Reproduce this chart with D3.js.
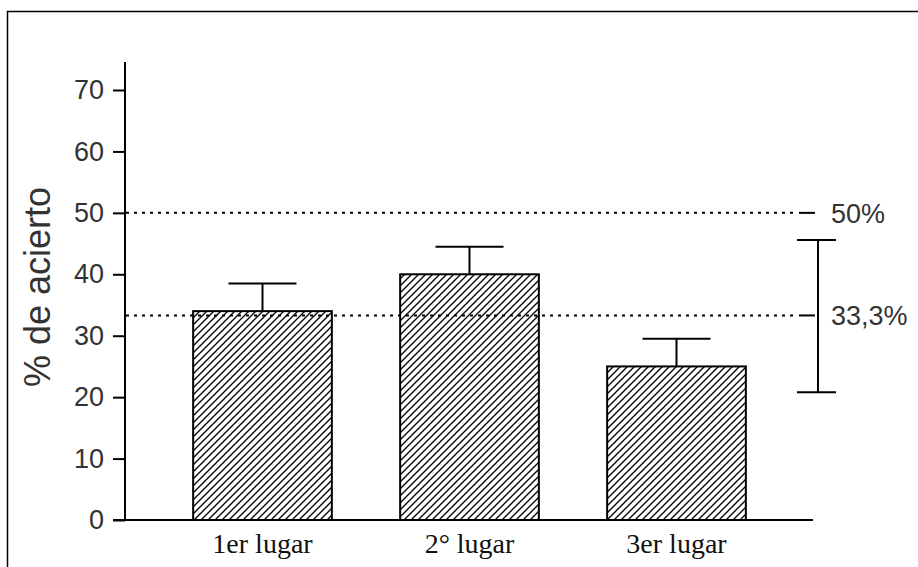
<!DOCTYPE html>
<html>
<head>
<meta charset="utf-8">
<script src="https://cdn.jsdelivr.net/npm/d3@7"></script>
<style>
  body { margin: 0; background: #fff; }
  .serif { font-family: 'DejaVu Serif', 'Liberation Serif', 'Times New Roman', Times, serif; }
  .sans { font-family: 'Liberation Sans', 'DejaVu Sans', sans-serif; }
</style>
</head>
<body>
<div id="chart"></div>
<script>
const categories = ['1er lugar', '2° lugar', '3er lugar']
const values = [34, 40, 25]
const errTop = [38.5, 44.5, 29.5]
const yTicks = [0, 10, 20, 30, 40, 50, 60, 70]
const chanceLevels = [50, 33.3]
const chanceLabels = ['50%', '33,3%']
const rangeBar = [20.8, 45.6]

const svg = d3.select('#chart').append('svg')
  .attr('width', 918).attr('height', 567)

// outer frame
svg.append('rect')
  .attr('x', 7.5).attr('y', 11.5)
  .attr('width', 1000).attr('height', 1000)
  .attr('fill', 'none').attr('stroke', '#000').attr('stroke-width', 1.5)

const defs = svg.append('defs')
defs.append('pattern')
  .attr('id', 'hatch')
  .attr('patternUnits', 'userSpaceOnUse')
  .attr('width', 7).attr('height', 7)
  .append('path')
  .attr('d', 'M0,7 L7,0 M-1,1 L1,-1 M6,8 L8,6')
  .attr('stroke', '#000').attr('stroke-width', 1.3)

const y = d3.scaleLinear().domain([0, 70]).range([520, 90])
const x = d3.scaleBand().domain(categories)
  .range([159, 780]).paddingInner(0.33).paddingOuter(0.165)

// y axis
const yAxis = d3.axisLeft(y).tickValues(yTicks).tickSize(12).tickPadding(9)
const gy = svg.append('g').attr('transform', 'translate(125,0)').call(yAxis)
gy.attr('font-family', null)
gy.select('.domain').remove()
gy.selectAll('.tick line').attr('stroke-width', 2)
gy.selectAll('.tick text')
  .attr('class', 'sans')
  .attr('font-size', '27px').attr('fill', '#333')
svg.append('line')
  .attr('x1', 125).attr('x2', 125).attr('y1', 62).attr('y2', 521)
  .attr('stroke', '#000').attr('stroke-width', 2)

// x axis baseline
svg.append('line')
  .attr('x1', 113).attr('x2', 813).attr('y1', y(0)).attr('y2', y(0))
  .attr('stroke', '#000').attr('stroke-width', 2)

// chance lines
svg.selectAll('.chance')
  .data(chanceLevels)
  .enter().append('line')
  .attr('x1', 126).attr('x2', 797)
  .attr('y1', d => y(d)).attr('y2', d => y(d))
  .attr('stroke', '#000').attr('stroke-width', 2)
  .attr('stroke-dasharray', '3,5')
svg.selectAll('.chance-end')
  .data(chanceLevels)
  .enter().append('line')
  .attr('x1', 799).attr('x2', 815)
  .attr('y1', d => y(d)).attr('y2', d => y(d))
  .attr('stroke', '#000').attr('stroke-width', 2)
svg.selectAll('.chance-label')
  .data(chanceLevels)
  .enter().append('text')
  .attr('class', 'sans')
  .attr('x', 831).attr('y', d => y(d))
  .attr('dy', '0.36em')
  .attr('font-size', '27px').attr('fill', '#333')
  .text((d, i) => chanceLabels[i])

// error bars
svg.selectAll('.err')
  .data(categories)
  .enter().append('line')
  .attr('x1', d => x(d) + x.bandwidth() / 2)
  .attr('x2', d => x(d) + x.bandwidth() / 2)
  .attr('y1', (d, i) => y(values[i]))
  .attr('y2', (d, i) => y(errTop[i]))
  .attr('stroke', '#000').attr('stroke-width', 2)
svg.selectAll('.cap')
  .data(categories)
  .enter().append('line')
  .attr('x1', d => x(d) + x.bandwidth() / 2 - 34)
  .attr('x2', d => x(d) + x.bandwidth() / 2 + 34)
  .attr('y1', (d, i) => y(errTop[i]))
  .attr('y2', (d, i) => y(errTop[i]))
  .attr('stroke', '#000').attr('stroke-width', 2)

// bars
svg.selectAll('.bar')
  .data(categories)
  .enter().append('rect')
  .attr('x', d => x(d))
  .attr('width', x.bandwidth())
  .attr('y', (d, i) => y(values[i]))
  .attr('height', (d, i) => y(0) - y(values[i]))
  .attr('fill', 'url(#hatch)')
  .attr('stroke', '#000').attr('stroke-width', 2)

// category labels
svg.selectAll('.cat')
  .data(categories)
  .enter().append('text')
  .attr('class', 'serif')
  .attr('x', d => x(d) + x.bandwidth() / 2)
  .attr('y', 553)
  .attr('text-anchor', 'middle')
  .style('font-family', "'Liberation Serif', 'DejaVu Serif', serif")
  .attr('font-size', '28px').attr('fill', '#111')
  .text(d => d)

// range bar on the right
const rx = 818
svg.append('line')
  .attr('x1', rx).attr('x2', rx)
  .attr('y1', y(rangeBar[0])).attr('y2', y(rangeBar[1]))
  .attr('stroke', '#000').attr('stroke-width', 2)
svg.selectAll('.rcap')
  .data(rangeBar)
  .enter().append('line')
  .attr('x1', rx - 21).attr('x2', rx + 18)
  .attr('y1', d => y(d)).attr('y2', d => y(d))
  .attr('stroke', '#000').attr('stroke-width', 2)

// y label
svg.append('text')
  .attr('class', 'sans')
  .attr('transform', 'translate(50,287) rotate(-90)')
  .attr('text-anchor', 'middle')
  .attr('font-size', '36px').attr('fill', '#333')
  .text('% de acierto')
</script>
</body>
</html>
